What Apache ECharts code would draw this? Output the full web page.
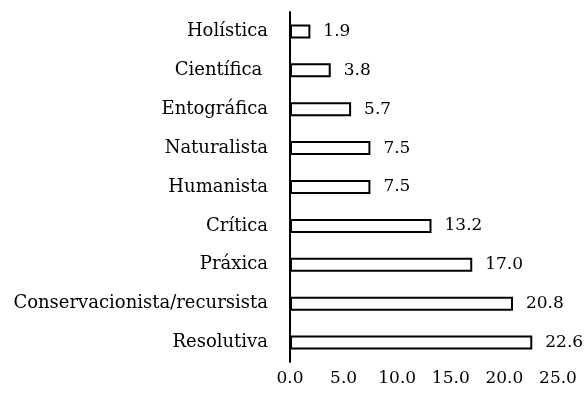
<!DOCTYPE html>
<html>
<head>
<meta charset="utf-8">
<script src="https://cdn.jsdelivr.net/npm/echarts@6/dist/echarts.min.js"></script>
<style>
  html, body { margin: 0; padding: 0; background: #fff; }
  #chart { width: 585px; height: 403px; }
</style>
</head>
<body>
<div id="chart"></div>
<script>
// categorias, de arriba hacia abajo
var categories = ['Holística', 'Científica ', 'Entográfica', 'Naturalista', 'Humanista',
  'Crítica', 'Práxica', 'Conservacionista/recursista', 'Resolutiva'];
var values = [1.9, 3.8, 5.7, 7.5, 7.5, 13.2, 17.0, 20.8, 22.6];
var xTicks = [0, 5, 10, 15, 20, 25];

var font = 'DejaVu Serif';
var chart = echarts.init(document.getElementById('chart'));

chart.setOption({
  animation: false,
  backgroundColor: '#fff',
  grid: { left: 290, right: 27, top: 12, bottom: 41, containLabel: false },
  xAxis: {
    type: 'value',
    min: xTicks[0],
    max: xTicks[xTicks.length - 1],
    interval: 5,
    axisLine: { show: false },
    axisTick: { show: false },
    splitLine: { show: false },
    axisLabel: {
      margin: 8,
      color: '#000',
      fontFamily: font,
      fontSize: 17,
      formatter: function (v) { return v.toFixed(1); }
    }
  },
  yAxis: {
    type: 'category',
    inverse: true,
    data: categories,
    axisLine: { show: true, lineStyle: { color: '#000', width: 2 } },
    axisTick: { show: false },
    axisLabel: { margin: 22, color: '#000', fontFamily: font, fontSize: 18 }
  },
  series: [{
    type: 'bar',
    data: values,
    barWidth: 14,
    itemStyle: { color: '#fff', borderColor: '#000', borderWidth: 2 },
    label: {
      show: true,
      position: 'right',
      distance: 13,
      color: '#000',
      fontFamily: font,
      fontSize: 17,
      formatter: function (p) { return p.value.toFixed(1); }
    }
  }]
});
</script>
</body>
</html>
